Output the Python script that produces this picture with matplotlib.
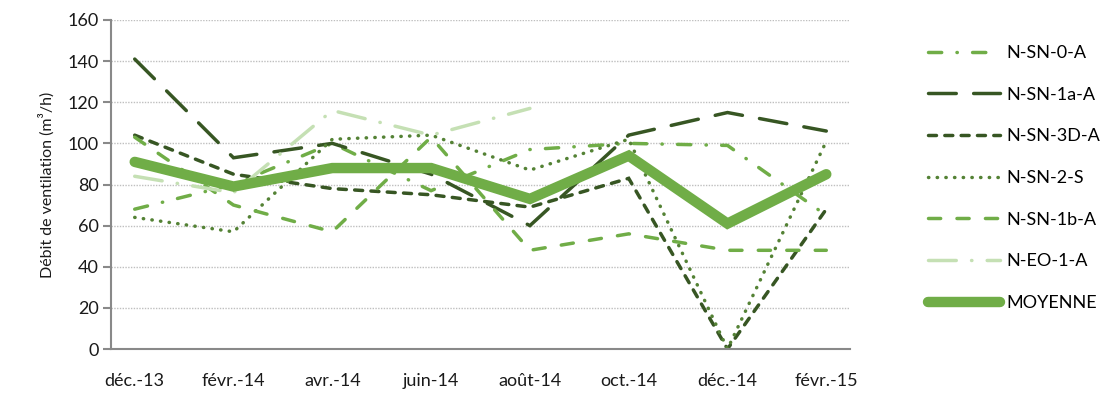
import numpy as np
import matplotlib
matplotlib.use("Agg")
import matplotlib.pyplot as plt

plt.rcParams['font.family'] = ['Lato', 'DejaVu Sans']

months = ["déc.-13", "févr.-14", "avr.-14", "juin-14", "août-14", "oct.-14", "déc.-14", "févr.-15"]

n_sn_0_a = [68, 80, 100, 77, 97, 100, 99, 65]
n_sn_1a_a = [141, 93, 100, 85, 60, 104, 115, 106]
n_sn_3d_a = [104, 85, 78, 75, 69, 83, 0, 68]
n_sn_2_s = [64, 57, 102, 104, 87, 102, 0, 101]
n_sn_1b_a = [103, 70, 57, 103, 48, 56, 48, 48]
n_eo_1_a = [84, 76, 116, 104, 117, np.nan, np.nan, np.nan]
moyenne = [91, 79, 88, 88, 73, 94, 61, 85]

x = np.arange(len(months))

# label, values, colour, linewidth, dash pattern
series = [
    ("N-SN-0-A", n_sn_0_a, "#70AD47", 2.5, (0, (3.8, 4.4, 0.1, 4.4))),
    ("N-SN-1a-A", n_sn_1a_a, "#375623", 2.5, (0, (8, 5))),
    ("N-SN-3D-A", n_sn_3d_a, "#375623", 2.5, (0, (2.3, 2.4))),
    ("N-SN-2-S", n_sn_2_s, "#548235", 2.5, (0, (0.1, 2.4))),
    ("N-SN-1b-A", n_sn_1b_a, "#70AD47", 2.5, (0, (3.5, 4.7))),
    ("N-EO-1-A", n_eo_1_a, "#C5E0B4", 2.5, (0, (8, 4.4, 0.1, 4.4))),
    ("MOYENNE", moyenne, "#70AD47", 7.5, "-"),
]

fig = plt.figure(figsize=(11.13, 3.94), dpi=100)
ax = fig.add_axes([111 / 1113, 45 / 394, 739 / 1113, 329 / 394])

for label, vals, color, lw, ls in series:
    ax.plot(x, vals, color=color, lw=lw, linestyle=ls, label=label,
            dash_capstyle="round", solid_capstyle="round",
            dash_joinstyle="miter", solid_joinstyle="miter")

ax.set_xlim(-0.24, 7.24)
ax.set_ylim(0, 160)
ax.set_yticks(np.arange(0, 161, 20))
ax.set_xticks(x)
ax.set_xticklabels(months)
ax.yaxis.grid(True, color="#BFBFBF", lw=1.0, linestyle=(0, (1, 1)))
ax.set_axisbelow(True)

for side in ("top", "right"):
    ax.spines[side].set_visible(False)
for side in ("left", "bottom"):
    ax.spines[side].set_color("#898989")
    ax.spines[side].set_linewidth(1.5)

ax.tick_params(axis="y", length=6, width=1.5, color="#898989", labelsize=13,
               labelcolor="#1a1a1a", pad=3)
ax.tick_params(axis="x", length=0, labelsize=13, labelcolor="#1a1a1a", pad=17)

ax.set_ylabel("Débit de ventilation (m³/h)", fontsize=11.5, color="#1a1a1a", labelpad=9)

ax.legend(loc="upper left", bbox_to_anchor=(928 / 1113, 1 - 45 / 394),
          bbox_transform=fig.transFigure, frameon=False, fontsize=13,
          handlelength=4.0, handletextpad=0.35, labelspacing=1.42,
          borderpad=0, borderaxespad=0)

fig.savefig("out.png", dpi=100)
